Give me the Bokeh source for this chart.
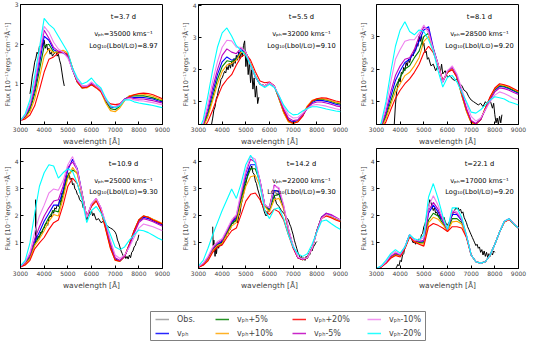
from bokeh.plotting import figure
from bokeh.layouts import column, row
from bokeh.models import Label, Legend, LegendItem, FixedTicker, BoxAnnotation
from bokeh.embed import file_html
from bokeh.resources import INLINE

FONT = "DejaVu Sans"

# ---------------- data ----------------
wl = [3000, 3200, 3400, 3600, 3800, 4000, 4200, 4400, 4600, 4800, 5000, 5200, 5400, 5600, 5800,
      6000, 6200, 6400, 6600, 6800, 7000, 7200, 7400, 7600, 7800, 8000, 8200, 8400, 8600, 8800, 9000]
x_ticks = [3000, 4000, 5000, 6000, 7000, 8000, 9000]

# panel 1  t=3.7 d
vph1     = [.08,.18,.4,.85,1.5, 2.2,2.1,1.86,1.8,1.78, 1.7,1.35,1.05,.92,.93, 1.0,.95,.85,.6,.42, .4,.48,.62,.68,.66, .66,.66,.64,.62,.58,.55]
vph1_p5  = [.08,.16,.35,.75,1.35, 1.95,2.0,1.8,1.8,1.8, 1.72,1.36,1.05,.9,.92, .98,.93,.82,.56,.38, .35,.44,.6,.7,.7, .7,.7,.68,.65,.61,.57]
vph1_p10 = [.08,.14,.3,.62,1.15, 1.7,1.88,1.78,1.82,1.85, 1.78,1.4,1.05,.9,.9, .98,.92,.8,.52,.33, .3,.4,.58,.7,.73, .74,.74,.72,.69,.64,.6]
vph1_p20 = [.08,.12,.22,.45,.85, 1.3,1.62,1.68,1.78,1.8, 1.75,1.4,1.05,.9,.92, .98,.9,.8,.6,.5, .48,.5,.6,.68,.73, .76,.77,.76,.73,.68,.63]
vph1_m5  = [.08,.2,.45,.95,1.65, 2.35,2.15,1.92,1.82,1.8, 1.7,1.35,1.08,.95,.95, 1.02,.95,.85,.6,.44, .42,.5,.62,.66,.63, .62,.62,.6,.58,.55,.52]
vph1_m10 = [.08,.22,.5,1.05,1.75, 2.45,2.3,2.05,1.88,1.8, 1.65,1.35,1.1,.95,.95, 1.05,.95,.85,.62,.45, .42,.48,.6,.64,.6, .58,.57,.55,.53,.5,.48]
vph1_m20 = [.08,.25,.6,1.2,1.9, 2.65,2.5,2.4,2.2,2.0, 1.8,1.4,1.15,1.0,1.05, 1.15,1.0,.9,.65,.45, .4,.45,.6,.6,.55, .52,.5,.48,.46,.43,.4]
obs1 = [(3400,0.75),(3450,0.95),(3500,1.2),(3550,1.35),(3600,1.55),(3650,1.65),(3700,1.8),(3750,1.75),
        (3800,1.95),(3850,1.9),(3900,2.05),(3950,1.95),(4000,2.1),(4050,1.9),(4100,2.0),(4150,1.85),
        (4200,1.9),(4250,1.75),(4300,1.8),(4350,1.7),(4400,1.75),(4450,1.78),(4500,1.8),(4550,1.7),
        (4600,1.75),(4650,1.6),(4700,1.5),(4750,1.3),(4800,1.1),(4850,0.95)]

# panel 2  t=5.5 d
vph2     = [0.06,0.27,0.7,1.3,1.85, 2.25,2.4,2.3,2.35,2.62, 2.55,2.15,1.78,1.55,1.5, 1.6,1.5,1.12,0.72,0.45, 0.38,0.42,0.58,0.82,0.98, 1.05,1.05,1.02,0.98,0.93,0.9]
vph2_p5  = [0.06,0.24,0.62,1.15,1.7, 2.1,2.28,2.25,2.35,2.55, 2.55,2.18,1.8,1.55,1.5, 1.6,1.5,1.1,0.68,0.4, 0.34,0.4,0.58,0.85,1.02, 1.08,1.09,1.06,1.02,0.97,0.94]
vph2_p10 = [0.05,0.2,0.55,1.05,1.55, 1.95,2.15,2.2,2.3,2.55, 2.52,2.2,1.82,1.55,1.5, 1.6,1.5,1.1,0.66,0.38, 0.33,0.4,0.6,0.88,1.05, 1.1,1.11,1.08,1.04,0.99,0.96]
vph2_p20 = [0.05,0.15,0.4,0.75,1.15, 1.5,1.7,1.85,2.15,2.4, 2.5,2.3,1.95,1.65,1.6, 1.62,1.5,1.15,0.72,0.42, 0.34,0.38,0.55,0.85,1.03, 1.1,1.13,1.12,1.08,1.03,1.0]
vph2_m5  = [0.07,0.3,0.8,1.45,2.0, 2.45,2.65,2.55,2.5,2.68, 2.55,2.15,1.8,1.55,1.5, 1.6,1.5,1.15,0.78,0.5, 0.42,0.45,0.6,0.8,0.95, 1.0,1.0,0.97,0.93,0.88,0.85]
vph2_m10 = [0.08,0.35,0.95,1.65,2.25, 2.7,2.92,2.9,2.7,2.7, 2.55,2.15,1.8,1.55,1.5, 1.6,1.5,1.2,0.85,0.6, 0.5,0.52,0.65,0.8,0.9, 0.92,0.9,0.87,0.83,0.79,0.76]
vph2_m20 = [0.1,0.45,1.2,2.0,2.7, 3.15,3.3,3.05,2.75,2.6, 2.45,2.15,1.8,1.55,1.45, 1.55,1.45,1.2,0.9,0.7, 0.6,0.62,0.72,0.8,0.85, 0.85,0.82,0.78,0.75,0.72,0.7]
obs2 = [(3550,0.3),(3600,0.5),(3650,0.75),(3700,0.85),(3750,1.1),(3800,1.2),(3850,1.4),(3900,1.5),
        (3950,1.7),(4000,1.75),(4050,1.85),(4100,1.95),(4150,1.9),(4200,2.1),(4250,2.0),(4300,2.2),
        (4350,2.05),(4400,2.25),(4450,2.1),(4500,2.35),(4550,2.2),(4600,2.45),(4650,2.3),(4700,2.55),
        (4750,2.35),(4800,2.6),(4850,2.4),(4900,2.75),(4950,2.9),(5000,2.1),(5050,2.45),(5100,1.85),
        (5150,2.25),(5200,1.6),(5250,2.0),(5300,1.4),(5350,1.75),(5400,1.15),(5450,1.5),(5500,0.95),(5550,1.15)]

# panel 3  t=8.1 d
vph3     = [0.06,0.22,0.62,1.15,1.65, 1.95,2.2,2.3,2.5,2.85, 3.2,3.3,2.65,2.15,1.6, 1.9,2.0,1.78,1.25,0.75, 0.38,0.32,0.45,0.78,1.1, 1.35,1.47,1.45,1.4,1.33,1.26]
vph3_p5  = [0.06,0.2,0.55,1.0,1.45, 1.75,2.0,2.1,2.35,2.55, 3.0,3.1,2.6,2.15,1.62, 1.9,2.0,1.75,1.2,0.72, 0.36,0.31,0.45,0.8,1.12, 1.38,1.5,1.47,1.42,1.35,1.28]
vph3_p10 = [0.05,0.18,0.48,0.9,1.3, 1.55,1.8,1.9,2.1,2.35, 2.85,3.0,2.55,2.15,1.62, 1.9,2.0,1.75,1.2,0.7, 0.35,0.3,0.45,0.8,1.13, 1.4,1.52,1.5,1.45,1.38,1.3]
vph3_p20 = [0.05,0.14,0.38,0.75,1.1, 1.35,1.55,1.7,1.9,2.15, 2.5,2.7,2.5,2.15,1.65, 1.9,1.98,1.75,1.25,0.75, 0.38,0.32,0.45,0.8,1.15, 1.42,1.55,1.52,1.47,1.4,1.32]
vph3_m5  = [0.07,0.25,0.7,1.3,1.8, 2.1,2.3,2.35,2.6,3.0, 3.3,3.2,2.6,2.15,1.6, 1.95,2.05,1.8,1.3,0.8, 0.42,0.33,0.45,0.75,1.05, 1.3,1.42,1.4,1.35,1.28,1.22]
vph3_m10 = [0.08,0.3,0.85,1.6,2.3, 2.6,2.85,2.9,2.9,3.1, 3.35,3.1,2.6,2.15,1.6, 1.95,2.1,1.85,1.4,0.95, 0.55,0.4,0.5,0.75,1.0, 1.2,1.3,1.25,1.18,1.1,1.05]
vph3_m20 = [0.1,0.35,1.0,1.9,2.7, 3.2,3.45,3.15,3.05,3.2, 3.15,2.9,2.55,1.95,1.45, 1.75,1.8,1.6,1.3,1.0, 0.68,0.65,0.75,0.9,1.05, 1.15,1.12,1.08,1.0,0.95,0.9]
obs3 = [(3750,0.3),(3800,0.9),(3850,1.3),(3900,1.5),(3950,1.7),(4000,1.6),(4050,1.9),(4100,1.85),
        (4150,2.05),(4200,1.95),(4250,2.2),(4300,2.1),(4350,2.3),(4400,2.2),(4450,2.35),(4500,2.45),
        (4550,2.4),(4600,2.6),(4650,2.55),(4700,2.8),(4750,2.7),(4800,3.0),(4850,2.85),(4900,3.05),
        (4950,2.7),(5000,2.8),(5050,2.5),(5100,2.55),(5150,2.3),(5200,2.35),(5300,2.1),(5400,2.15),
        (5500,1.95),(5600,2.1),(5700,1.9),(5750,2.15),(5800,1.85),(5900,1.95),(6000,1.75),(6100,1.8),
        (6200,1.7),(6300,1.65),(6400,1.7),(6500,1.55),(6600,1.5),(6700,1.35),(6800,1.3),(6900,1.15),
        (7000,1.05),(7100,1.0),(7200,0.95),(7300,0.9),(7400,0.95),(7500,0.85),(7600,1.0),(7700,0.9),
        (7800,1.05),(7900,0.8),(7950,0.95),(8000,0.6),(8050,0.35),(8100,0.5),(8150,0.3),(8200,0.55),
        (8250,0.35),(8300,0.6)]

# panel 4  t=10.9 d
vph4     = [0.12,0.25,0.5,1.05,1.4, 1.8,2.1,2.4,2.4,2.95, 3.7,4.1,3.75,2.85,1.95, 2.4,2.6,2.25,1.6,0.9, 0.4,0.33,0.5,0.9,1.4, 1.8,1.95,1.9,1.82,1.74,1.66]
vph4_p5  = [0.12,0.23,0.45,0.95,1.25, 1.6,1.95,2.2,2.15,2.8, 3.5,3.7,3.6,2.85,1.95, 2.4,2.6,2.2,1.55,0.85, 0.37,0.32,0.5,0.95,1.45, 1.85,2.0,1.95,1.87,1.78,1.7]
vph4_p10 = [0.11,0.21,0.42,0.9,1.15, 1.45,1.8,2.05,2.0,2.65, 3.4,3.8,3.55,2.8,1.95, 2.4,2.6,2.2,1.5,0.8, 0.35,0.32,0.5,0.95,1.45, 1.85,2.0,1.96,1.88,1.8,1.72]
vph4_p20 = [0.11,0.18,0.35,0.78,1.0, 1.2,1.5,1.75,1.85,2.4, 3.1,3.4,3.2,2.65,2.0, 2.35,2.55,2.2,1.5,0.8, 0.36,0.32,0.5,0.95,1.45, 1.85,2.0,1.95,1.85,1.77,1.7]
vph4_m5  = [0.12,0.27,0.55,1.15,1.6, 2.0,2.3,2.55,2.6,3.1, 3.8,4.0,3.7,2.85,1.95, 2.45,2.65,2.3,1.7,1.0, 0.45,0.35,0.5,0.9,1.35, 1.75,1.9,1.85,1.78,1.7,1.62]
vph4_m10 = [0.13,0.3,0.65,1.4,2.0, 2.4,2.85,3.0,2.95,3.3, 3.9,4.2,3.7,2.85,1.95, 2.45,2.65,2.3,1.75,1.1, 0.55,0.42,0.55,0.85,1.2, 1.55,1.7,1.65,1.6,1.52,1.45]
vph4_m20 = [0.15,0.35,1.0,2.1,3.1, 3.6,3.9,3.85,3.4,3.6, 3.75,3.65,3.2,2.6,1.75, 2.2,2.35,2.1,1.75,1.3, 0.85,0.75,0.85,1.1,1.3, 1.48,1.45,1.38,1.28,1.18,1.1]
obs4 = [(3630,1.0),(3640,2.6),(3660,1.3),(3700,1.1),(3750,1.25),(3800,1.2),(3850,1.4),(3900,1.35),
        (3950,1.5),(4000,1.55),(4050,1.7),(4100,1.75),(4150,1.65),(4200,1.9),(4250,2.0),(4300,1.95),
        (4350,2.2),(4400,2.1),(4450,2.3),(4500,2.25),(4550,2.4),(4600,2.35),(4650,2.6),(4700,2.5),
        (4750,2.85),(4800,2.8),(4850,3.1),(4900,3.2),(4950,3.5),(5000,3.4),(5050,3.6),(5100,3.35),
        (5150,3.4),(5200,3.15),(5250,3.2),(5300,3.0),(5350,2.95),(5400,2.8),(5450,2.75),(5500,2.6),
        (5550,2.55),(5600,2.5),(5650,2.3),(5700,2.4),(5750,2.1),(5800,1.85),(5850,2.0),(5900,2.15),
        (5950,2.05),(6000,2.2),(6050,2.0),(6100,2.1),(6200,1.85),(6300,1.9),(6400,1.75),(6500,1.8),
        (6600,1.7),(6700,1.6),(6800,1.55),(6900,1.5),(7000,1.4),(7050,1.3),(7100,1.1),(7150,1.0),
        (7200,0.85),(7250,0.7),(7300,0.6),(7350,0.5),(7400,0.55),(7450,0.42),(7500,0.5),(7550,0.4),
        (7600,0.55),(7650,0.45),(7700,0.65),(7750,0.7),(7800,0.85),(7850,0.9),(7900,1.05),(7950,1.1),(8000,1.3)]

# panel 5  t=14.2 d
vph5     = [0.11,0.22,0.43,0.75,0.95, 1.05,1.4,1.75,1.95,2.7, 3.45,3.9,3.9,3.3,2.4, 2.25,2.95,2.9,2.3,1.5, 0.85,0.45,0.38,0.45,0.8, 1.45,1.95,2.1,2.02,1.93,1.84]
vph5_p5  = [0.1,0.2,0.4,0.72,0.92, 1.0,1.35,1.7,1.85,2.6, 3.3,3.75,3.75,3.25,2.4, 2.2,2.75,2.8,2.3,1.5, 0.85,0.45,0.37,0.45,0.8, 1.45,1.95,2.05,1.98,1.9,1.82]
vph5_p10 = [0.1,0.19,0.38,0.7,0.9, 0.98,1.3,1.62,1.75,2.45, 3.1,3.45,3.5,3.1,2.35, 2.15,2.6,2.65,2.25,1.45, 0.85,0.45,0.37,0.45,0.8, 1.45,1.92,2.02,1.95,1.87,1.8]
vph5_p20 = [0.1,0.17,0.33,0.65,0.85, 0.92,1.2,1.45,1.55,2.05, 2.55,2.8,2.85,2.6,2.2, 2.05,2.25,2.15,1.85,1.3, 0.8,0.45,0.37,0.45,0.8, 1.42,1.9,2.0,1.93,1.85,1.78]
vph5_m5  = [0.11,0.23,0.45,0.8,1.0, 1.1,1.45,1.8,2.0,2.8, 3.6,4.1,4.0,3.3,2.4, 2.3,3.15,3.0,2.35,1.5, 0.85,0.45,0.38,0.45,0.8, 1.45,1.95,2.1,2.05,1.95,1.85]
vph5_m10 = [0.12,0.25,0.5,0.85,1.05, 1.15,1.5,1.85,2.05,2.9, 3.7,4.2,4.1,3.3,2.4, 2.3,3.1,3.05,2.4,1.55, 0.9,0.48,0.4,0.45,0.8, 1.4,1.9,2.05,2.0,1.92,1.85]
vph5_m20 = [0.15,0.35,0.8,1.3,1.75, 2.2,2.6,3.0,2.65,3.2, 3.9,4.25,3.95,3.1,2.2, 1.9,2.25,2.3,1.9,1.3, 0.85,0.6,0.5,0.6,0.95, 1.4,1.8,1.85,1.72,1.6,1.5]
obs5 = [(3600,1.6),(3620,0.9),(3650,1.1),(3700,0.5),(3730,0.9),(3760,0.6),(3800,0.95),(3850,0.8),
        (3900,1.0),(3950,0.9),(4000,1.15),(4050,1.0),(4100,1.3),(4150,1.2),(4200,1.45),(4250,1.35),
        (4300,1.6),(4350,1.5),(4400,1.75),(4450,1.7),(4500,1.95),(4550,1.8),(4600,1.9),(4650,1.75),
        (4700,2.0),(4750,2.1),(4800,2.4),(4850,2.6),(4900,2.8),(4950,3.05),(5000,3.2),(5050,3.4),
        (5100,3.6),(5150,3.8),(5200,3.7),(5250,3.85),(5300,3.6),(5350,3.55),(5400,3.3),(5450,3.2),
        (5500,3.0),(5550,2.85),(5600,2.7),(5650,2.5),(5700,2.4),(5750,2.25),(5800,2.1),(5850,2.0),
        (5900,2.05),(5950,2.2),(6000,2.3),(6050,2.55),(6100,2.7),(6150,2.85),(6200,2.75),(6250,2.6),
        (6300,2.45),(6400,2.35),(6500,2.2),(6600,2.1),(6700,1.95),(6800,1.85),(6850,1.7),(6900,1.6),
        (6950,1.45),(7000,1.3),(7050,1.1),(7100,0.95),(7150,0.8),(7200,0.65),(7250,0.55),(7300,0.45),
        (7350,0.5),(7400,0.38),(7450,0.45),(7500,0.35),(7550,0.5),(7600,0.42),(7650,0.6),(7700,0.55),
        (7750,0.75),(7800,0.7),(7850,0.85),(7900,0.9),(7950,1.0),(8000,1.05)]

# panel 6  t=22.1 d
vph6     = [0.05,0.12,0.27,0.48,0.6, 0.54,0.83,1.28,1.08,1.02, 1.05,2.1,2.4,2.15,1.8, 1.47,2.05,2.05,1.82,1.27, 0.55,0.3,0.25,0.3,0.55, 0.95,1.4,1.78,1.88,1.7,1.55]
vph6_p5  = [0.05,0.11,0.26,0.46,0.57, 0.52,0.82,1.27,1.07,1.0, 1.0,1.85,2.1,2.0,1.72, 1.45,1.9,1.9,1.75,1.25, 0.55,0.3,0.25,0.3,0.55, 0.95,1.4,1.78,1.88,1.7,1.55]
vph6_p10 = [0.05,0.11,0.25,0.45,0.55, 0.5,0.8,1.25,1.05,0.98, 0.95,1.75,1.95,1.88,1.68, 1.43,1.78,1.8,1.7,1.22, 0.55,0.3,0.25,0.3,0.55, 0.95,1.4,1.77,1.87,1.7,1.55]
vph6_p20 = [0.05,0.1,0.24,0.43,0.53, 0.48,0.78,1.22,1.03,0.95, 0.88,1.6,1.72,1.65,1.55, 1.42,1.6,1.6,1.55,1.2, 0.55,0.3,0.25,0.3,0.55, 0.95,1.4,1.77,1.87,1.7,1.55]
vph6_m5  = [0.05,0.12,0.28,0.5,0.62, 0.55,0.85,1.3,1.1,1.05, 1.1,2.2,2.5,2.25,1.85, 1.48,2.15,2.1,1.85,1.28, 0.55,0.3,0.25,0.3,0.55, 0.95,1.4,1.8,1.9,1.72,1.55]
vph6_m10 = [0.05,0.13,0.3,0.55,0.68, 0.58,0.85,1.3,1.1,1.1, 1.2,2.35,2.75,2.4,1.9, 1.5,2.2,2.15,1.9,1.3, 0.55,0.3,0.25,0.3,0.55, 0.95,1.4,1.8,1.88,1.72,1.55]
vph6_m20 = [0.05,0.15,0.35,0.6,0.75, 0.62,0.85,1.3,1.15,1.1, 1.3,2.7,3.2,2.65,2.0, 1.5,2.3,2.3,1.95,1.3, 0.55,0.3,0.25,0.3,0.55, 0.95,1.4,1.8,1.9,1.7,1.55]
obs6 = [(3800,0.05),(3850,0.1),(3900,0.2),(3950,0.15),(4000,0.35),(4050,0.3),(4100,0.55),(4150,0.6),
        (4200,0.85),(4250,0.9),(4300,1.1),(4350,1.2),(4400,1.3),(4450,1.25),(4500,1.1),(4550,1.0),
        (4600,1.05),(4650,0.95),(4700,1.1),(4750,1.05),(4800,1.15),(4850,1.1),(4900,1.3),(4950,1.35),
        (5000,1.6),(5050,1.7),(5100,1.9),(5150,2.1),(5200,2.3),(5250,2.6),(5300,2.5),(5350,2.35),
        (5400,2.2),(5450,2.3),(5500,2.1),(5550,2.15),(5600,2.0),(5650,2.05),(5700,1.9),(5750,2.0),
        (5800,1.85),(5850,1.95),(5900,1.8),(5950,1.7),(6000,1.65),(6050,1.75),(6100,1.8),(6150,1.95),
        (6200,2.0),(6250,2.15),(6300,2.2),(6350,2.3),(6400,2.25),(6450,2.3),(6500,2.2),(6550,2.25),
        (6600,2.1),(6650,2.15),(6700,1.95),(6750,1.85),(6800,1.75),(6850,1.6),(6900,1.5),(6950,1.4),
        (7000,1.3),(7050,1.2),(7100,1.1),(7150,1.0),(7200,0.9),(7250,0.95),(7300,0.8),(7350,0.85),
        (7400,0.65),(7450,0.75),(7500,0.55),(7550,0.7),(7600,0.5),(7650,0.65),(7700,0.45),(7750,0.6),
        (7800,0.5),(7850,0.65),(7900,0.55),(7950,0.7),(8000,0.65)]

epochs = ["t=3.7 d", "t=5.5 d", "t=8.1 d", "t=10.9 d", "t=14.2 d", "t=22.1 d"]
vph_text = ["35000", "32000", "28500", "25000", "22000", "17000"]
log_lbol = ["8.97", "9.10", "9.20", "9.30", "9.30", "9.20"]

series_labels = ["vₚₕ", "vₚₕ+5%", "vₚₕ+10%", "vₚₕ+20%", "vₚₕ-5%", "vₚₕ-10%", "vₚₕ-20%"]
series_colors = ["#0000ff", "#008000", "#ffa500", "#ff0000", "#bf00bf", "#ee82ee", "#00ffff"]

models = [
    [vph1, vph1_p5, vph1_p10, vph1_p20, vph1_m5, vph1_m10, vph1_m20],
    [vph2, vph2_p5, vph2_p10, vph2_p20, vph2_m5, vph2_m10, vph2_m20],
    [vph3, vph3_p5, vph3_p10, vph3_p20, vph3_m5, vph3_m10, vph3_m20],
    [vph4, vph4_p5, vph4_p10, vph4_p20, vph4_m5, vph4_m10, vph4_m20],
    [vph5, vph5_p5, vph5_p10, vph5_p20, vph5_m5, vph5_m10, vph5_m20],
    [vph6, vph6_p5, vph6_p10, vph6_p20, vph6_m5, vph6_m10, vph6_m20],
]
observed = [obs1, obs2, obs3, obs4, obs5, obs6]
y_ranges = [(-0.02, 3.0), (0.3, 4.03), (0.3, 3.98), (0.05, 4.5), (0.05, 4.5), (0.05, 4.5)]
y_ticks = [[1, 2, 3], [1, 2, 3, 4], [1, 2, 3], [1, 2, 3, 4], [1, 2, 3, 4], [1, 2, 3, 4]]

# ---------------- figures ----------------
def make_panel(i):
    col = i % 3
    top_row = i < 3
    ymin, ymax = y_ranges[i]
    p = figure(width=(174 if col == 2 else 178), frame_height=120,
               x_range=(3000, 9000), y_range=(ymin, ymax),
               output_backend="svg", toolbar_location=None,
               min_border_left=14, min_border_right=(12 if col == 2 else 16),
               min_border_top=(4 if top_row else 0), min_border_bottom=(16 if top_row else 20))
    p.background_fill_color = "white"
    p.border_fill_color = "white"
    p.xgrid.visible = False
    p.ygrid.visible = False
    p.outline_line_color = "black"
    p.outline_line_alpha = 1.0
    p.xaxis.ticker = FixedTicker(ticks=x_ticks)
    p.yaxis.ticker = FixedTicker(ticks=y_ticks[i])
    for ax in (p.xaxis[0], p.yaxis[0]):
        ax.major_tick_in = 3
        ax.major_tick_out = 0
        ax.minor_tick_in = 0
        ax.minor_tick_out = 0
        ax.major_label_text_font_size = "6px"
        ax.major_label_text_font = FONT
        ax.major_label_standoff = 2
        ax.axis_label_text_font = FONT
        ax.axis_label_text_font_style = "normal"
        ax.axis_line_color = "black"
    p.xaxis.axis_label_standoff = 2
    p.yaxis.axis_label_standoff = 0
    p.xaxis.axis_label = "wavelength [Å]"
    p.xaxis.axis_label_text_font_size = "7.5px"
    p.yaxis.axis_label = "Flux [10⁻¹⁷ergs⁻¹cm⁻²Å⁻¹]"
    p.yaxis.axis_label_text_font_size = "6.5px"

    ox = [a for a, b in observed[i]]
    oy = [b for a, b in observed[i]]
    p.line(ox, oy, line_color="black", line_width=1)
    for ys, c in zip(models[i], series_colors):
        n = min(len(wl), len(ys))
        p.line(wl[:n], ys[:n], line_color=c, line_width=1.1)

    h = ymax - ymin
    fr = (0.1, 0.245, 0.345) if top_row else (0.125, 0.27, 0.365)
    texts = [epochs[i], "vₚₕ=" + vph_text[i] + " kms⁻¹", "Log₁₀(Lbol/L⊙)=" + log_lbol[i]]
    for t, f in zip(texts, fr):
        p.add_layout(Label(x=7350, y=ymax - f * h, text=t, text_align="center",
                           text_baseline="middle", text_font_size="6.7px", text_font=FONT,
                           text_color="black"))
    return p

panels = [make_panel(i) for i in range(6)]

# legend figure
lf = figure(width=526, height=56, x_range=(0, 526), y_range=(0, 56), output_backend="svg",
            toolbar_location=None, x_axis_type=None, y_axis_type=None, min_border=0)
lf.xgrid.visible = False
lf.ygrid.visible = False
lf.outline_line_color = None
lf.background_fill_color = "white"

leg_labels = ["Obs."] + series_labels
leg_colors = ["#999999"] + series_colors
# legend proxies: placed outside the visible range so only their legend glyphs show
renderers = [lf.line(x=[-60, -50], y=[-60, -60], line_color=c, line_width=1.5, line_alpha=0.85)
             for c in leg_colors]
col_x = [155, 215, 292, 367]
for c in range(4):
    items = [LegendItem(label=leg_labels[2 * c + k], renderers=[renderers[2 * c + k]]) for k in range(2)]
    leg = Legend(items=items, location=(col_x[c], 9), orientation="vertical", padding=0, margin=0,
                 spacing=2, glyph_width=14, glyph_height=12, label_height=12, label_standoff=8,
                 label_text_font_size="8px", label_text_font=FONT,
                 border_line_alpha=0, background_fill_alpha=0)
    lf.add_layout(leg)
lf.add_layout(BoxAnnotation(left=150, right=425, bottom=8, top=37, fill_alpha=0,
                            line_color="#808080", line_alpha=1, line_width=1))

layout = column(row(*panels[:3]), row(*panels[3:]), lf)
open("out.html", "w").write(file_html(layout, INLINE))
